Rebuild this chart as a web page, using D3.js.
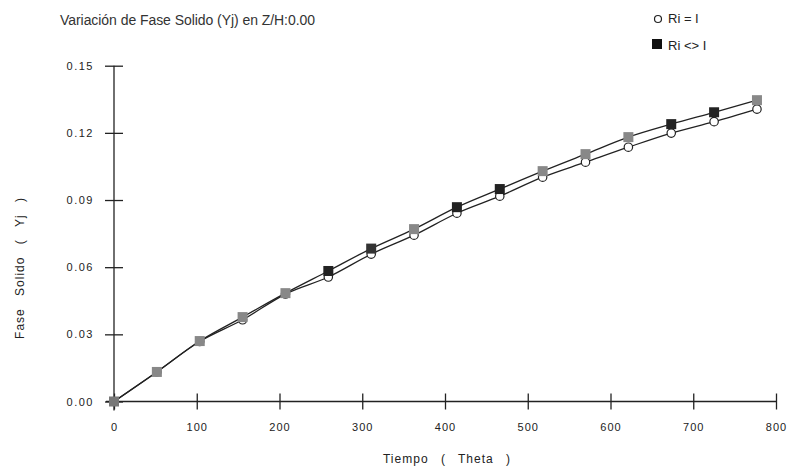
<!DOCTYPE html>
<html lang="es">
<head>
    <meta charset="UTF-8">
    <title>Variacion de Fase Solido</title>
    <script src="https://d3js.org/d3.v7.min.js"></script>
    <style>
        body {
            margin: 0;
            background-color: white;
            font-family: "Liberation Sans", "DejaVu Sans", sans-serif;
        }
        svg { display: block; }
        .tick text { fill: #222; }
    </style>
</head>
<body>
    <script>
        // Data
        const tiempo = [0, 51.8, 103.6, 155.4, 207.2, 259, 310.8, 362.6, 414.4, 466.2, 518, 569.8, 621.6, 673.4, 725.2, 777];
        const riIgual = [0, 0.0132, 0.0268, 0.0365, 0.0480, 0.0556, 0.0658, 0.0743, 0.0841, 0.0917, 0.1002, 0.1069, 0.1136, 0.1199, 0.1250, 0.1306];
        const riDistinto = [0, 0.0132, 0.0270, 0.0377, 0.0484, 0.0583, 0.0683, 0.0770, 0.0868, 0.0949, 0.1029, 0.1105, 0.1181, 0.1239, 0.1292, 0.1346];
        const xTicks = [0, 100, 200, 300, 400, 500, 600, 700, 800];
        const yTicks = [0.00, 0.03, 0.06, 0.09, 0.12, 0.15];

        // scanned squares come out in two shades
        const squareShade = ["#777", "#888", "#888", "#888", "#888", "#222", "#333", "#888", "#222", "#222", "#888", "#888", "#888", "#222", "#222", "#888"];

        const W = 791, H = 476;
        const svg = d3.select("body").append("svg")
            .attr("width", W)
            .attr("height", H);

        const x = d3.scaleLinear().domain([0, 800]).range([114, 776]);
        const y = d3.scaleLinear().domain([0, 0.15]).range([401.5, 65.7]);

        // Title
        svg.append("text")
            .attr("x", 60)
            .attr("y", 25)
            .attr("fill", "#333")
            .attr("textLength", 255)
            .attr("lengthAdjust", "spacing")
            .style("font-size", "14px")
            .text("Variación de Fase Solido (Yj) en Z/H:0.00");

        // Legend
        svg.append("circle")
            .attr("cx", 658).attr("cy", 19).attr("r", 3.5)
            .attr("fill", "white").attr("stroke", "#222").attr("stroke-width", 1.2);
        svg.append("text")
            .attr("x", 668).attr("y", 23)
            .attr("fill", "#222")
            .style("font-size", "13px")
            .text("Ri = I");
        svg.append("rect")
            .attr("x", 652).attr("y", 39).attr("width", 10).attr("height", 10)
            .attr("fill", "#111");
        svg.append("text")
            .attr("x", 668).attr("y", 50)
            .attr("fill", "#222")
            .style("font-size", "13px")
            .text("Ri <> I");

        // Axes
        const yAxis = svg.append("g")
            .attr("transform", `translate(${x(0)},0)`)
            .call(d3.axisLeft(y).tickValues(yTicks).tickFormat(d3.format(".2f")).tickSize(9).tickPadding(10));
        yAxis.select(".domain").remove();
        yAxis.selectAll(".tick line").attr("x1", -9).attr("x2", 9).attr("stroke", "#222").attr("stroke-width", 1.3);
        yAxis.selectAll(".tick text").style("font-size", "11px").style("letter-spacing", "1.5px").attr("x", -20);
        yAxis.append("line")
            .attr("y1", y(0.15)).attr("y2", y(0) + 9)
            .attr("stroke", "#222").attr("stroke-width", 1.3);

        const xAxis = svg.append("g")
            .attr("transform", `translate(0,${y(0)})`)
            .call(d3.axisBottom(x).tickValues(xTicks).tickFormat(d3.format("d")).tickSize(8).tickPadding(14));
        xAxis.select(".domain").remove();
        xAxis.selectAll(".tick line").attr("y1", -8).attr("y2", 8).attr("stroke", "#222").attr("stroke-width", 1.3);
        xAxis.selectAll(".tick text").style("font-size", "11px").style("letter-spacing", "1px");
        xAxis.append("line")
            .attr("x1", x(0) - 8).attr("x2", x(800))
            .attr("stroke", "#222").attr("stroke-width", 1.3);

        // Axis titles
        svg.append("text")
            .attr("x", 447).attr("y", 463)
            .attr("text-anchor", "middle")
            .attr("fill", "#222")
            .style("font-size", "12px")
            .style("letter-spacing", "1px")
            .style("word-spacing", "8px")
            .text("Tiempo ( Theta )");

        svg.append("text")
            .attr("transform", "translate(24,268) rotate(-90)")
            .attr("text-anchor", "middle")
            .attr("fill", "#222")
            .style("font-size", "12px")
            .style("letter-spacing", "1px")
            .style("word-spacing", "8px")
            .text("Fase Solido ( Yj )");

        // Curves
        const line = d3.line()
            .x(d => x(d[0]))
            .y(d => y(d[1]))
            .curve(d3.curveMonotoneX);

        const s1 = tiempo.map((t, i) => [t, riIgual[i]]);
        const s2 = tiempo.map((t, i) => [t, riDistinto[i]]);

        svg.append("path").datum(s1)
            .attr("d", line).attr("fill", "none")
            .attr("stroke", "#222").attr("stroke-width", 1.3);
        svg.append("path").datum(s2)
            .attr("d", line).attr("fill", "none")
            .attr("stroke", "#222").attr("stroke-width", 1.3);

        // Markers: circles below, squares on top
        svg.selectAll(".circ")
            .data(s1)
            .enter()
            .append("circle")
            .attr("class", "circ")
            .attr("cx", d => x(d[0]))
            .attr("cy", d => y(d[1]))
            .attr("r", 4.2)
            .attr("fill", "white")
            .attr("stroke", "#222")
            .attr("stroke-width", 1.2);

        svg.selectAll(".sq")
            .data(s2)
            .enter()
            .append("rect")
            .attr("class", "sq")
            .attr("x", d => x(d[0]) - 5)
            .attr("y", d => y(d[1]) - 5)
            .attr("width", 10)
            .attr("height", 10)
            .attr("fill", (d, i) => squareShade[i]);
    </script>
</body>
</html>
